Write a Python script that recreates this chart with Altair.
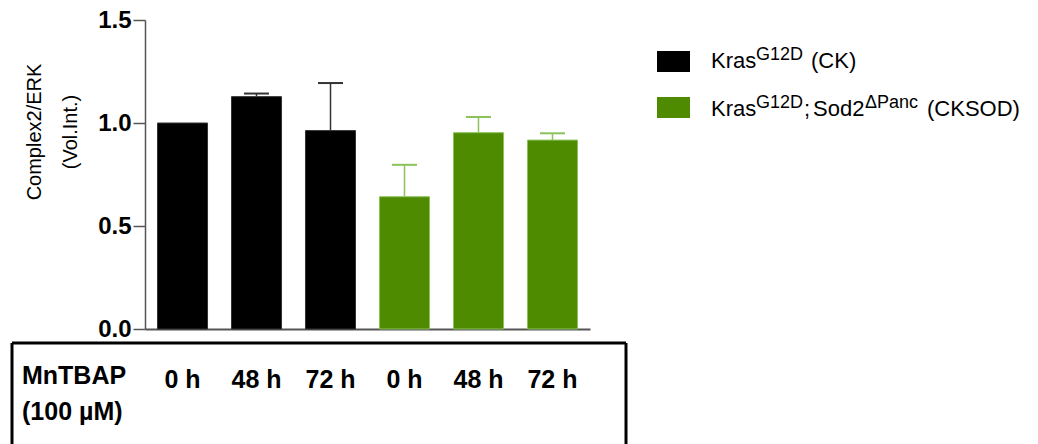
import altair as alt
import pandas as pd

FONT = "Liberation Sans, Arial, sans-serif"

# Complex2/ERK densitometry, mean and SEM per genotype and MnTBAP exposure time
groups = ["CK", "CK", "CK", "CKSOD", "CKSOD", "CKSOD"]
times = ["0 h", "48 h", "72 h", "0 h", "48 h", "72 h"]
means = [1.0, 1.128, 0.963, 0.642, 0.953, 0.917]
sems = [0.0, 0.015, 0.231, 0.155, 0.076, 0.033]
y_ticks = [0.0, 0.5, 1.0, 1.5]

bar_colors = {"CK": "#000000", "CKSOD": "#4E8B00"}
err_colors = {"CK": "#333333", "CKSOD": "#8DC25A"}

df = pd.DataFrame({"group": groups, "time": times, "mean": means, "sem": sems})
df["id"] = df["group"] + " " + df["time"]
df["upper"] = df["mean"] + df["sem"]
df["fill_col"] = df["group"].map(bar_colors)
df["err_col"] = df["group"].map(err_colors)
ids = list(df["id"])

x_enc = alt.X(
    "id:N",
    sort=ids,
    scale=alt.Scale(paddingInner=0.324, paddingOuter=0.169),
    axis=alt.Axis(labels=False, ticks=False, title=None,
                  domainColor="#555555", domainWidth=2),
)
y_axis = alt.Axis(
    values=y_ticks, format=".1f", title=None, grid=False,
    tickSize=12, tickColor="#555555", tickWidth=1.5,
    domainColor="#555555", domainWidth=1.5,
    labelFont=FONT, labelFontSize=24, labelFontWeight="bold",
    labelColor="black", labelPadding=2,
)
y_scale = alt.Scale(domain=[0, 1.5], nice=False)

base = alt.Chart(df)

bars = base.mark_bar(strokeWidth=1).encode(
    x=x_enc,
    y=alt.Y("mean:Q", scale=y_scale, axis=y_axis),
    fill=alt.Fill("fill_col:N", scale=None),
    stroke=alt.Stroke("err_col:N", scale=None),
)

# upper error bars only; the 0 h CK reference bar has no spread
err_rule = base.mark_rule(strokeWidth=1.5).encode(
    x=x_enc,
    y=alt.Y("mean:Q", title=None),
    y2="upper:Q",
    stroke=alt.Stroke("err_col:N", scale=None),
    opacity=alt.condition("datum.sem > 0", alt.value(1), alt.value(0)),
)

err_cap = base.mark_tick(size=25, thickness=2).encode(
    x=x_enc,
    y=alt.Y("upper:Q", title=None),
    color=alt.Color("err_col:N", scale=None),
    opacity=alt.condition("datum.sem > 0", alt.value(1), alt.value(0)),
)

# MnTBAP exposure time under each bar
time_labels = base.mark_text(
    font=FONT, fontSize=25, fontWeight="bold", color="black",
    baseline="alphabetic", align="center",
).encode(
    x=x_enc,
    y=alt.value(368),
    text="time:N",
)

one = pd.DataFrame({"k": [0]})


def label(txt, x, y, size, weight="normal", angle=0, align="left", baseline="alphabetic"):
    return alt.Chart(one).mark_text(
        text=txt, font=FONT, fontSize=size, fontWeight=weight, angle=angle,
        align=align, baseline=baseline, color="black",
    ).encode(x=alt.value(x), y=alt.value(y))


def rule(x, y, x2=None, y2=None):
    enc = {"x": alt.value(x), "y": alt.value(y)}
    if x2 is not None:
        enc["x2"] = alt.value(x2)
    if y2 is not None:
        enc["y2"] = alt.value(y2)
    return alt.Chart(one).mark_rule(color="black", strokeWidth=3).encode(**enc)


def swatch(x, y, color):
    return alt.Chart(one).mark_rect(color=color).encode(
        x=alt.value(x), x2=alt.value(x + 33), y=alt.value(y), y2=alt.value(y + 21)
    )


# y-axis title (two rotated lines)
y_title = [
    label("Complex2/ERK", -110, 112, 20, angle=270, align="center", baseline="middle"),
    label("(Vol.Int.)", -74, 112, 20, angle=270, align="center", baseline="middle"),
]

# treatment box below the axis
box = [
    rule(-133, 323, x2=481),
    rule(-133, 323, y2=430),
    rule(481, 323, y2=430),
    label("MnTBAP", -123, 364, 25, weight="bold"),
    label("(100 µM)", -123, 400, 25, weight="bold"),
]

# legend with superscripted genotype labels
legend = [
    swatch(512, 31, bar_colors["CK"]),
    label("Kras", 566, 48, 22),
    label("G12D", 611, 40, 18),
    label("(CK)", 666, 48, 22),
    swatch(512, 77, bar_colors["CKSOD"]),
    label("Kras", 566, 96, 22),
    label("G12D", 611, 88, 18),
    label(";", 659, 96, 22),
    label("Sod2", 668, 96, 22),
    label("ΔPanc", 720, 88, 18),
    label("(CKSOD)", 782, 96, 22),
]

chart = alt.layer(
    bars, err_rule, err_cap, time_labels, *y_title, *box, *legend
).properties(
    width=445,
    height=309,
    padding={"left": 145, "top": 20, "right": 448, "bottom": 115},
    autosize=alt.AutoSizeParams(type="none"),
    background="white",
).configure_view(stroke=None)

chart.save("out.html", embed_options={"renderer": "svg", "actions": False})
